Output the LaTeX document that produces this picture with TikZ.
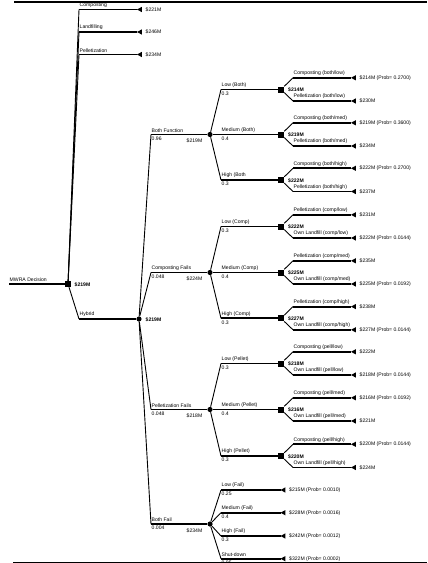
\documentclass[tikz,border=0pt]{standalone}
\usepackage{fontspec}
\setmainfont{Liberation Sans}
\tikzset{
  dec/.style={rectangle, fill=black, minimum size=6pt, inner sep=0pt},
  chance/.style={circle, fill=black, minimum size=5.2pt, inner sep=0pt},
  br/.style={line width=1.8pt},
  ln/.style={line width=0.9pt},
  lab/.style={font=\fontsize{5.1}{6}\selectfont, inner sep=0.5pt},
  alab/.style={lab, anchor=south west, yshift=1.3pt},
  blab/.style={lab, anchor=north west, yshift=-1.5pt},
  vlab/.style={lab, anchor=west},
  bval/.style={lab, anchor=west, font=\fontsize{5.1}{6}\selectfont\bfseries},
}
% terminal: named coordinate at the tip plus a filled triangle
\newcommand{\myterm}[3]{%
  \coordinate (#1) at (#2,#3);
  \fill (#1) -- ++(4.8,2.6) -- ++(0,-5.2) -- cycle;}
% second level chance branch: name, y, label, prob, value
\newcommand{\mylevtwo}[5]{%
  \coordinate (#1s) at (151,#2);
  \node[chance] (#1) at (210,#2) {};
  \draw[ln] (H) -- (#1s);
  \draw[br] (#1s) -- (#1);
  \node[alab] (#1-a) at (#1s) {#3};
  \node[blab] (#1-b) at (#1s) {#4};
  \node[lab, anchor=north east] (#1-v) at (203,{#2+4}) {#5};}
% third level branch into a decision square: parent, name, y, label, prob, value
\newcommand{\mylevthree}[6]{%
  \coordinate (#2s) at (221,#3);
  \node[dec] (#2) at (281,#3) {};
  \draw[ln] (#1) -- (#2s);
  \draw[br] (#2s) -- (#2);
  \node[alab] (#2-a) at (#2s) {#4};
  \node[blab] (#2-b) at (#2s) {#5};
  \node[bval] (#2-v) at (287.5,{#3+0.6}) {#6};}
% fork of a decision square: name, y, upper label, upper value, lower label, lower value
\newcommand{\myfork}[6]{%
  \coordinate (#1u) at (293,{#2-11.7});
  \coordinate (#1l) at (293,{#2+11.5});
  \myterm{#1ut}{351}{#2-11.7}
  \myterm{#1lt}{351}{#2+11.5}
  \draw[ln] (#1) -- (#1u);
  \draw[ln] (#1) -- (#1l);
  \draw[br] (#1u) -- (#1ut);
  \draw[br] (#1l) -- (#1lt);
  \node[alab] (#1-ua) at (#1u) {#3};
  \node[vlab] (#1-uv) at (359,{#2-11.7}) {#4};
  \node[alab] (#1-la) at (#1l) {#5};
  \node[vlab] (#1-lv) at (359,{#2+11.5}) {#6};}
% leaf branch of both fail: parent, name, y, label, prob, value
\newcommand{\myleaf}[6]{%
  \coordinate (#2s) at (221,#3);
  \myterm{#2t}{280.5}{#3}
  \draw[ln] (#1) -- (#2s);
  \draw[br] (#2s) -- (#2t);
  \node[alab] (#2-a) at (#2s) {#4};
  \node[blab] (#2-b) at (#2s) {#5};
  \node[vlab] (#2-v) at (288.5,#3) {#6};}
\begin{document}
\begin{tikzpicture}[x=1pt,y=-1pt]
\useasboundingbox (0,0) rectangle (428,563);
\draw[line width=1.6pt] (14,2) -- (427,2);
\draw[line width=0.8pt] (13,562) -- (427,562);

% root decision
\coordinate (m0) at (9,284);
\node[dec] (R) at (68,284) {};
\draw[br] (m0) -- (R);
\node[alab] (m0-a) at (m0) {MWRA Decision};
\node[bval] (R-v) at (74,284.6) {\$219M};

% first level alternatives
\coordinate (a1) at (79,9.5);
\coordinate (a2) at (79,32);
\coordinate (a3) at (79,54.5);
\myterm{a1t}{137}{9.5}
\myterm{a2t}{137}{32}
\myterm{a3t}{137}{54.5}
\draw[ln] (R) -- (a1);
\draw[ln] (R) -- (a2);
\draw[ln] (R) -- (a3);
\draw[br] (a1) -- (a1t);
\draw[br] (a2) -- (a2t);
\draw[br] (a3) -- (a3t);
\node[alab] (a1-a) at (a1) {Composting};
\node[alab] (a2-a) at (a2) {Landfilling};
\node[alab] (a3-a) at (a3) {Pelletization};
\node[vlab] (a1-v) at (145,9.5) {\$221M};
\node[vlab] (a2-v) at (145,32) {\$246M};
\node[vlab] (a3-v) at (145,54.5) {\$234M};

% hybrid
\coordinate (hy) at (79,319);
\node[chance] (H) at (139,319) {};
\draw[ln] (R) -- (hy);
\draw[br] (hy) -- (H);
\node[alab] (hy-a) at (hy) {Hybrid};
\node[bval] (H-v) at (145,319.6) {\$219M};

% second level
\mylevtwo{BF}{134.5}{Both Function}{0.96}{\$219M}
\mylevtwo{CF}{272.5}{Composting Fails}{0.048}{\$224M}
\mylevtwo{PF}{409.5}{Pelletization Fails}{0.048}{\$218M}
\mylevtwo{FF}{524}{Both Fail}{0.004}{\$234M}

% both function
\mylevthree{BF}{B1}{89.5}{Low (Both)}{0.3}{\$214M}
\myfork{B1}{89.5}{Composting (both/low)}{\$214M (Prob= 0.2700)}{Pelletization (both/low)}{\$230M}
\mylevthree{BF}{B2}{134.5}{Medium (Both)}{0.4}{\$219M}
\myfork{B2}{134.5}{Composting (both/med)}{\$219M (Prob= 0.3600)}{Pelletization (both/med)}{\$234M}
\mylevthree{BF}{B3}{180}{High (Both}{0.3}{\$222M}
\myfork{B3}{180}{Composting (both/high)}{\$222M (Prob= 0.2700)}{Pelletization (both/high)}{\$237M}

% composting fails
\mylevthree{CF}{C1}{226.5}{Low (Comp)}{0.3}{\$222M}
\myfork{C1}{226.5}{Pelletization (comp/low)}{\$231M}{Own Landfill (comp/low)}{\$222M (Prob= 0.0144)}
\mylevthree{CF}{C2}{272.5}{Medium (Comp)}{0.4}{\$225M}
\myfork{C2}{272.5}{Pelletization (comp/med)}{\$235M}{Own Landfill (comp/med)}{\$225M (Prob= 0.0192)}
\mylevthree{CF}{C3}{318.3}{High (Comp)}{0.3}{\$227M}
\myfork{C3}{318.3}{Pelletization (comp/high)}{\$238M}{Own Landfill (comp/high)}{\$227M (Prob= 0.0144)}

% pelletization fails
\mylevthree{PF}{P1}{363.5}{Low (Pellet)}{0.3}{\$218M}
\myfork{P1}{363.5}{Composting (pell/low)}{\$222M}{Own Landfill (pell/low)}{\$218M (Prob= 0.0144)}
\mylevthree{PF}{P2}{409.5}{Medium (Pellet)}{0.4}{\$216M}
\myfork{P2}{409.5}{Composting (pell/med)}{\$216M (Prob= 0.0192)}{Own Landfill (pell/med)}{\$221M}
\mylevthree{PF}{P3}{456}{High (Pellet)}{0.3}{\$220M}
\myfork{P3}{456}{Composting (pell/high)}{\$220M (Prob= 0.0144)}{Own Landfill (pell/high)}{\$224M}

% both fail
\myleaf{FF}{F1}{490}{Low (Fail)}{0.25}{\$215M (Prob= 0.0010)}
\myleaf{FF}{F2}{512.7}{Medium (Fail)}{0.4}{\$228M (Prob= 0.0016)}
\myleaf{FF}{F3}{536}{High (Fail)}{0.3}{\$242M (Prob= 0.0012)}
\myleaf{FF}{F4}{558.7}{Shut-down}{0.05}{\$322M (Prob= 0.0002)}
\end{tikzpicture}
\end{document}
